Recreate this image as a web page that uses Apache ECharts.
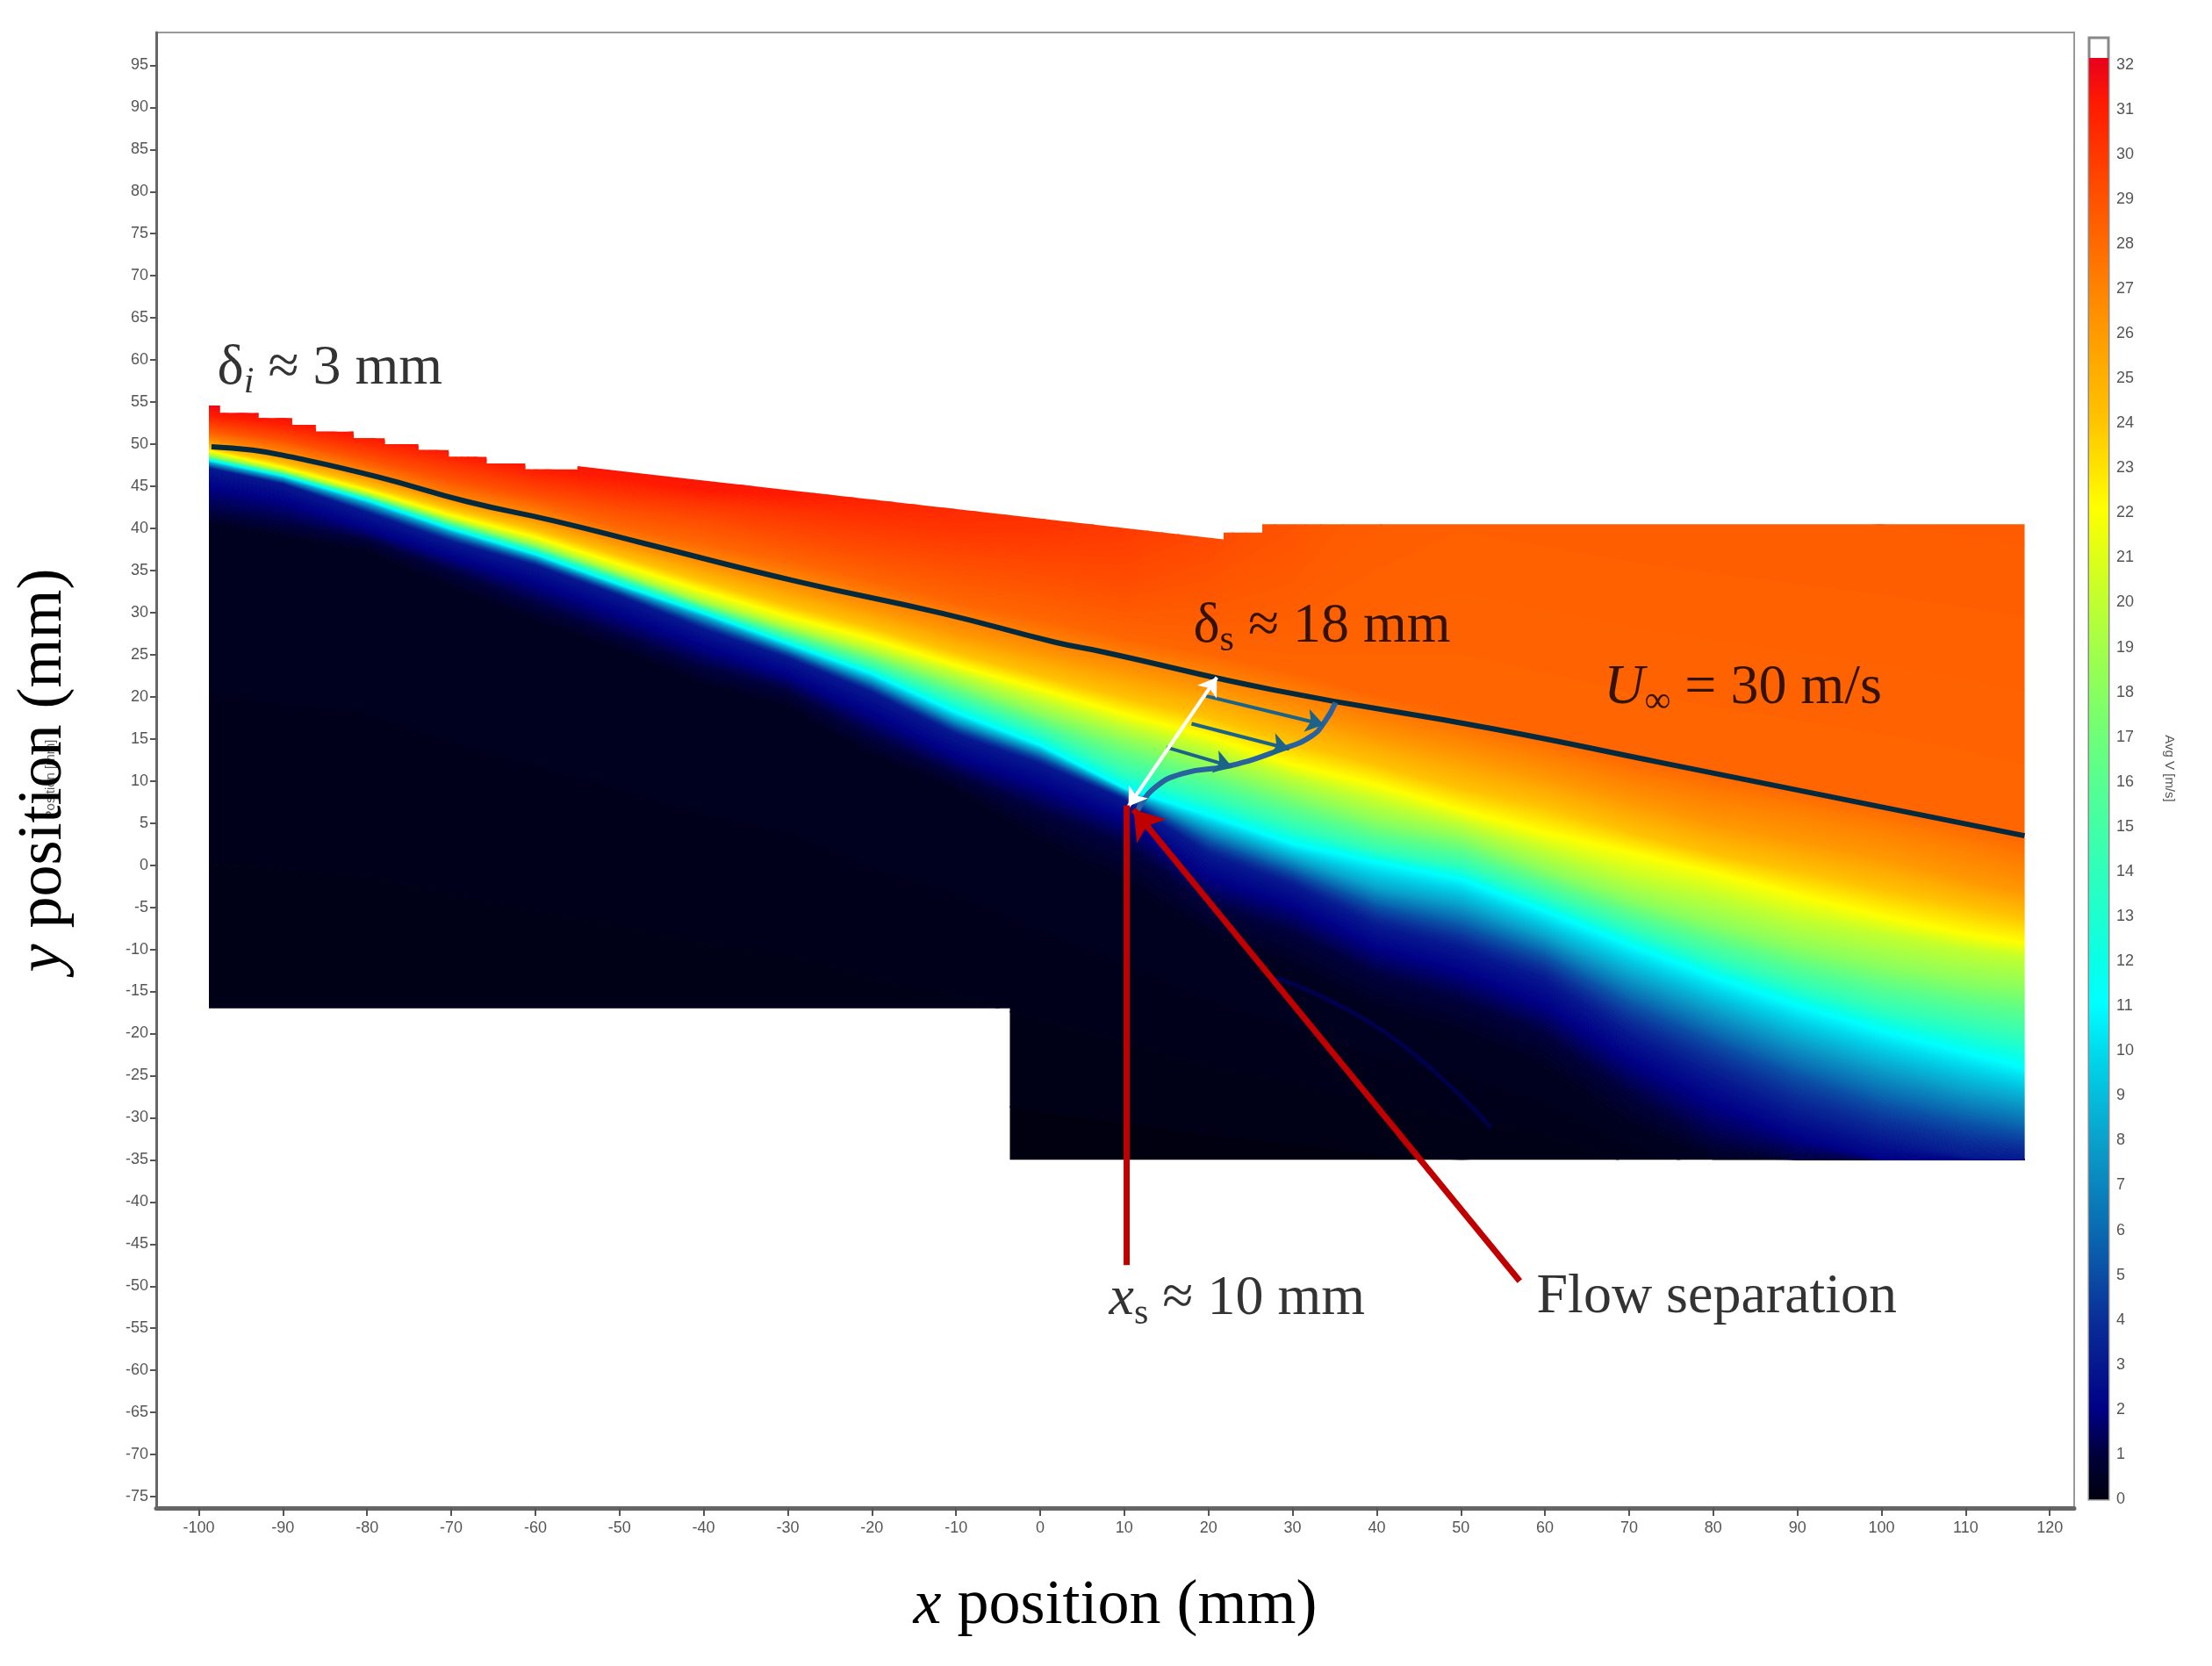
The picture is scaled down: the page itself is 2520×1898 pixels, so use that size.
<!DOCTYPE html>
<html>
<head>
<meta charset="utf-8">
<title>Avg V field</title>
<style>
  html, body { margin: 0; background: #fff; }
  #chart { width: 2520px; height: 1898px; }
</style>
<script src="https://cdn.jsdelivr.net/npm/echarts@6/dist/echarts.min.js"></script>
</head>
<body>
<div id="chart"></div>
<script>
// tick labels
const xTicks = [-100,-90,-80,-70,-60,-50,-40,-30,-20,-10,0,10,20,30,40,50,60,70,80,90,100,110,120];
const yTicks = [-75,-70,-65,-60,-55,-50,-45,-40,-35,-30,-25,-20,-15,-10,-5,0,5,10,15,20,25,30,35,40,45,50,55,60,65,70,75,80,85,90,95];
const barTicks = [0,1,2,3,4,5,6,7,8,9,10,11,12,13,14,15,16,17,18,19,20,21,22,23,24,25,26,27,28,29,30,31,32];

// colour bar, one colour per m/s from 0 to 32
const barColors = ['#00000f','#00003c','#000086','#06188f','#0a2e98','#0a4ea6','#0a6bb2','#0a86be','#0aa2cc','#04bedc','#00dcee','#00ffff',
  '#0affe6','#1effcf','#30ffba','#44ffa4','#58ff8e','#70ff76','#8aff5e','#a6ff46','#c2ff2e','#e0ff16','#ffff00','#ffe000',
  '#ffc200','#ffae00','#ff9800','#ff8000','#ff6600','#ff4e00','#ff3400','#ff1a00','#e8001e'];
const barTop = [32.15];

// outline of the measured field (mm)
const fieldEdge = [[-98.8,54.6],[-97.5,54.6],[-97.5,53.7],[-92.9,53.7],[-92.9,53.1],[-88.9,53.1],[-88.9,52.3],[-86.1,52.3],[-86.1,51.5],[-81.6,51.5],
  [-81.6,50.7],[-77.9,50.7],[-77.9,50],[-73.9,50],[-73.9,49.3],[-70.3,49.3],[-70.3,48.5],[-65.8,48.5],[-65.8,47.7],[-61.2,47.7],[-61.2,47],[-55,47],
  [-55,47.4],[-46.4,46.4],[7.6,40.3],[21.8,38.7],[21.8,39.5],[26.4,39.5],[26.4,40.5],[117,40.5],[117,-35],[-3.6,-35],[-3.6,-17],[-98.8,-17]];

// velocity isolines: stations along x, and y of each level at those stations (all mm)
const stations = [-99,-90,-80,-70,-60,-50,-40,-30,-20,-10,0,10,20,30,40,50,60,70,80,90,100,110,117];
const isoLevels = [0, 0.4, 1, 2, 3, 5, 8, 11, 14, 18, 20, 22, 24, 26, 27, 28, 29, 30, 31, 32];
const iso0   = [-40,-40,-40,-40,-40,-40,-40,-40,-40,-40,-40,-40,-40,-40,-40,-40,-40,-40,-40,-40,-40,-40,-40];
const iso04  = [40.5,39,37.3,33,29,25.5,21.5,18.7,13,9,3,-2,-8,-12,-17,-20,-24,-31,-35,-35,-35,-35,-35];
const iso1   = [42,40.6,38.7,35,31,27.3,23.5,20.8,15.2,10.8,6.5,2.5,-4.5,-8,-13,-16,-20,-27,-33,-35,-35,-35,-35];
const iso2   = [45,43.3,40,36.7,33.6,29.8,26,22.6,18,13,9.5,5.5,-1.4,-4.8,-9.8,-12.6,-16.6,-23,-28.3,-32.4,-35,-35,-35];
const iso3   = [47.2,45.3,41.9,38.4,35.6,32,28,24.6,20.5,15.5,12,7.8,1.3,-2.4,-7.2,-9.8,-13.5,-20,-25,-29.6,-32.6,-34.7,-35];
const iso5   = [47.5,45.6,42.4,39,36.1,32.5,28.7,25.2,21.2,16.3,12.8,8.3,2.8,-0.9,-5,-7.4,-11,-16.6,-21,-25.2,-28.6,-30.8,-32];
const iso8   = [47.9,46,43,39.6,36.6,33,29.5,25.8,22,17.2,13.6,8.8,4.4,0.8,-2.7,-4.6,-8.4,-13,-17,-20.8,-24,-26.6,-28];
const iso11  = [48.2,46.3,43.4,40,37,33.4,30,26.4,22.8,18.2,14.3,9.2,6,2.6,0.4,-1.6,-5.4,-9.4,-13.2,-16.6,-19.6,-22.2,-24];
const iso14  = [48.4,46.5,43.7,40.4,37.5,34,30.5,27,23.6,19.6,15.8,11,8,4.6,1.8,0,-3.6,-7.4,-11,-14.2,-17,-19,-20.4];
const iso18  = [48.7,46.8,44,40.9,38,34.6,31.1,28,25,21.6,18,14.8,11.8,8.4,5.2,3.2,-0.6,-4,-7,-9.8,-12,-13.8,-14.6];
const iso20  = [49,47,44.3,41.2,38.5,35,31.7,28.6,25.8,22.8,19.6,16.5,13.8,10.5,7.6,5,1.8,-1.4,-3.6,-6.4,-8.2,-10,-11];
const iso22  = [49.3,47.3,44.6,41.6,39,35.8,32.6,29.6,26.9,23.8,21,18,15.4,12,9.6,6.6,3.9,1.6,-0.8,-3.5,-6,-8.1,-9.2];
const iso24  = [49.7,47.8,45.2,42.4,39.9,36.8,33.8,30.9,28.3,25.3,22.6,20,17.6,14.6,12,9.2,7,4,1.4,-0.6,-2.8,-4.8,-6.2];
const iso26  = [50.4,48.6,46.1,43.3,41,38.2,35.6,33,30.4,27.6,25.2,23,20.8,18,15.4,13,10.4,7.6,5,3,1,-1.6,-3.2];
const iso27  = [50.8,49.2,46.8,44,42,39.1,36.8,34.6,32,29.6,27.2,25,23,20.4,17.6,15.4,13,10.2,8,6.4,4.4,2,0];
const iso28  = [51.4,50,47.6,45,43,40.2,38.2,36.2,33.8,31.2,29.3,27,25.2,23,20.2,18,15.5,13,11,9.2,7.4,5.2,3.4];
const iso29  = [52,50.6,48.4,46,44,42.2,40.8,38.8,37,35.6,34.5,33,36,44,70,90,90,90,90,90,90,90,90];
const iso30  = [52.8,51.6,49.6,47.6,45.6,44,43,42,40.8,40,40,42,48,56,80,100,100,100,100,100,100,100,100];
const iso31  = [53.6,52.6,50.8,49,47.2,46,44.5,44,44.5,46,50,56,64,74,90,110,110,110,110,110,110,110,110];
const iso32  = [55,55,55,53,52,52,52,54,58,62,68,74,82,92,104,120,120,120,120,120,120,120,120];
const isolines = [iso0,iso04,iso1,iso2,iso3,iso5,iso8,iso11,iso14,iso18,iso20,iso22,iso24,iso26,iso27,iso28,iso29,iso30,iso31,iso32];

// faint streaks in the dark wake
const wakeStreak = [[28.1,-13.4],[41.2,-20],[53.6,-31.2]];

// annotations
const edgeLine = [[-98.5,49.7],[-93.6,49.3],[-89.1,48.5],[-78.7,46.1],[-68.2,43.2],[-57.8,40.9],[-47,38.2],[-28.9,33.7],[-11.6,29.9],[1.7,26.5],[7.6,25.3],[27.8,20.8],[53.8,16.2],[73.7,12.2],[117,3.5]];
const profileCurve = [[11.6,6.5],[13.5,9.1],[17,10.9],[22.5,11.8],[28.8,13.8],[32.2,15.3],[33.8,17],[35.1,19.3]];
const profileArrows = [[[19.7,20.1],[33.7,16.7]],[[18,16.8],[29.6,13.8]],[[15,14],[22.8,11.7]]];
const thicknessArrow = [[10.5,7],[21,22.3]];
const separationLine = [[10.3,-47.5],[10.3,7.1]];
const separationArrow = [[57,-49.4],[11.1,6.6]];
const noteSpots = [[-97.8,59],[18.2,28.3],[67,21],[8.2,-51.6],[59,-51.4]];
const noteTexts = ['δ{i|i} ≈ 3 mm','δ{sub|s} ≈ 18 mm','{u|U}{inf|∞} = 30 m/s','{u|x}{sub|s} ≈ 10 mm','Flow separation'];

const serif = '"Liberation Serif"';
const tickFont = { fontFamily: '"Liberation Sans"', fontSize: 18, color: '#555' };

const chart = echarts.init(document.getElementById('chart'), null, { renderer: 'canvas' });

function renderBand(params, api) {
  const k = params.dataIndex;
  const vLow = isoLevels[k], vHigh = isoLevels[k + 1];
  const lower = isolines[k], upper = isolines[k + 1];
  const slices = Math.max(1, Math.ceil((vHigh - vLow) / 0.1));
  const children = [];
  for (let s = 0; s < slices; s++) {
    const a = s / slices, b = (s + 1) / slices;
    const points = [];
    stations.forEach((x, i) => points.push(api.coord([x, lower[i] + (upper[i] - lower[i]) * a])));
    for (let i = stations.length - 1; i >= 0; i--) {
      points.push(api.coord([stations[i], lower[i] + (upper[i] - lower[i]) * b]));
    }
    const color = echarts.color.lerp((vLow + (vHigh - vLow) * (a + b) / 2) / 32, barColors);
    children.push({ type: 'polygon', shape: { points }, style: { fill: color, stroke: color, lineWidth: 1 } });
  }
  return {
    type: 'group',
    clipPath: { type: 'polygon', shape: { points: fieldEdge.map(p => api.coord(p)) } },
    children
  };
}

const arrowSeries = (coords, color, width, symbol, size) => ({
  type: 'lines',
  coordinateSystem: 'cartesian2d',
  xAxisIndex: 0, yAxisIndex: 0,
  symbol, symbolSize: size, z: 6, silent: true,
  lineStyle: { color, width, opacity: 1, curveness: 0 },
  data: coords.map(c => ({ coords: c }))
});

chart.setOption({
  animation: false,
  backgroundColor: '#fff',
  textStyle: { fontFamily: '"Liberation Sans"' },
  grid: [
    { left: 178, top: 37, width: 2185, height: 1681, show: true, borderColor: '#999', borderWidth: 2, backgroundColor: '#fff' },
    { left: 2380, top: 43, width: 22, height: 1665, show: true, borderColor: '#888', borderWidth: 3, backgroundColor: '#fff' }
  ],
  xAxis: [
    {
      type: 'value', gridIndex: 0, min: -105.06, max: 122.9, splitLine: { show: false },
      axisLine: { onZero: false, lineStyle: { color: '#666', width: 5 } },
      axisTick: { customValues: xTicks, length: 9, lineStyle: { color: '#555', width: 2 } },
      axisLabel: Object.assign({ customValues: xTicks, margin: 14 }, tickFont),
      name: '{i|x} position (mm)', nameLocation: 'middle', nameGap: 76,
      nameTextStyle: { fontFamily: serif, fontSize: 72, color: '#000', rich: { i: { fontFamily: serif, fontSize: 72, fontStyle: 'italic', color: '#000' } } }
    },
    { type: 'category', gridIndex: 1, data: ['v'], show: false }
  ],
  yAxis: [
    {
      type: 'value', gridIndex: 0, min: -76.35, max: 98.9, splitLine: { show: false },
      axisLine: { onZero: false, lineStyle: { color: '#666', width: 3 } },
      axisTick: { customValues: yTicks, length: 7, lineStyle: { color: '#555', width: 2 } },
      axisLabel: Object.assign({ customValues: yTicks, margin: 9 }, tickFont),
      name: '{i|y} position (mm)', nameLocation: 'middle', nameGap: 92,
      nameTextStyle: { fontFamily: serif, fontSize: 72, color: '#000', rich: { i: { fontFamily: serif, fontSize: 72, fontStyle: 'italic', color: '#000' } } }
    },
    {
      type: 'value', gridIndex: 1, position: 'right', min: 0, max: 32.6, splitLine: { show: false },
      axisLine: { show: false },
      axisTick: { customValues: barTicks, length: 6, lineStyle: { color: '#444', width: 2 } },
      axisLabel: Object.assign({ customValues: barTicks, margin: 9 }, tickFont),
      name: 'Avg V [m/s]', nameLocation: 'middle', nameGap: 62, nameRotate: -90,
      nameTextStyle: { fontSize: 15, color: '#555' }
    }
  ],
  graphic: [
    { type: 'text', x: 58, y: 888, rotation: Math.PI / 2, style: { text: 'Position [mm]', fontSize: 15, fill: '#555', align: 'center', verticalAlign: 'middle', fontFamily: '"Liberation Sans"' } }
  ],
  series: [
    {
      type: 'custom', name: 'field', xAxisIndex: 0, yAxisIndex: 0, z: 2, silent: true,
      renderItem: renderBand,
      clip: false,
      data: isoLevels.slice(0, -1).map(v => [v])
    },
    {
      type: 'line', name: 'streak', xAxisIndex: 0, yAxisIndex: 0, data: wakeStreak, smooth: true, showSymbol: false, z: 3, silent: true,
      lineStyle: { color: '#00006a', width: 5, opacity: 0.6 }
    },
    {
      type: 'line', name: 'edge', xAxisIndex: 0, yAxisIndex: 0, data: edgeLine, smooth: true, showSymbol: false, z: 4, silent: true,
      lineStyle: { color: '#052a3d', width: 6 }
    },
    {
      type: 'line', name: 'profile', xAxisIndex: 0, yAxisIndex: 0, data: profileCurve, smooth: true, showSymbol: false, z: 5, silent: true,
      lineStyle: { color: '#2a62a0', width: 6 }
    },
    arrowSeries(profileArrows, '#1b6388', 4, ['none', 'arrow'], 20),
    arrowSeries([thicknessArrow], '#ffffff', 4, ['arrow', 'arrow'], 20),
    arrowSeries([separationLine], '#c00000', 7, ['none', 'none'], 1),
    arrowSeries([separationArrow], '#c00000', 7, ['none', 'arrow'], 32),
    {
      type: 'bar', name: 'colour bar', xAxisIndex: 1, yAxisIndex: 1, data: barTop, barWidth: '100%', silent: true,
      itemStyle: {
        color: new echarts.graphic.LinearGradient(0, 1, 0, 0, barColors.map((color, i) => ({ offset: i / 32, color })))
      }
    },
    {
      type: 'scatter', name: 'notes', xAxisIndex: 0, yAxisIndex: 0, data: noteSpots, symbolSize: 0, z: 7, silent: true,
      label: {
        show: true, position: 'right', distance: 0, color: '#000', fontFamily: serif, fontSize: 64, lineHeight: 74,
        formatter: p => noteTexts[p.dataIndex],
        rich: {
          i: { fontFamily: serif, fontSize: 42, fontStyle: 'italic', color: '#000', lineHeight: 74, verticalAlign: 'bottom' },
          sub: { fontFamily: serif, fontSize: 42, color: '#000', lineHeight: 74, verticalAlign: 'bottom' },
          u: { fontFamily: serif, fontSize: 64, fontStyle: 'italic', color: '#000', lineHeight: 74 },
          inf: { fontFamily: serif, fontSize: 42, color: '#000', lineHeight: 74, verticalAlign: 'bottom' }
        }
      }
    }
  ]
});
</script>
</body>
</html>
